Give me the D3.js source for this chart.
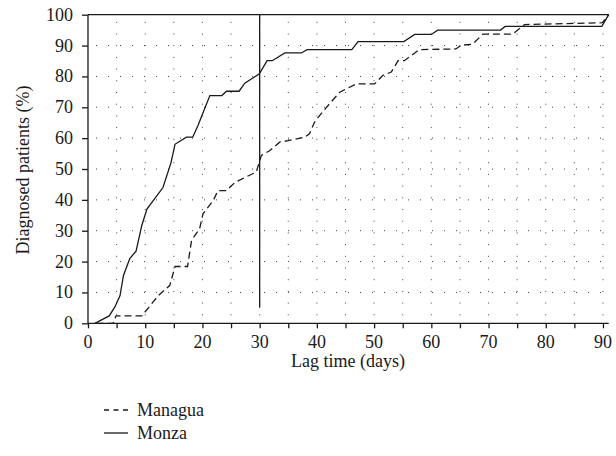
<!DOCTYPE html>
<html>
<head>
<meta charset="utf-8">
<script src="https://cdn.jsdelivr.net/npm/d3@7"></script>
<style>
  body { margin: 0; background: #fff; }
  svg text { font-family: "Liberation Serif", "Times New Roman", serif; fill: #1a1a1a; }
</style>
</head>
<body>
<svg id="chart" width="616" height="456"></svg>
<script>
// values
const monzaDays = [1.2, 3.7, 4.7, 5.6, 6.2, 7.3, 8.4, 9.4, 10.3, 13.1, 14.5, 15.2, 17.2, 18.3, 19.2, 21.3, 23.4, 24.2, 26.4, 27.4, 29.9, 30.1, 31.3, 32.2, 34.4, 37.3, 38.3, 46.1, 47.2, 55.2, 57.1, 60, 61.1, 72.1, 72.9, 89.8, 91];
const monzaPct  = [0, 2.4, 5.3, 9, 15.5, 21, 23.4, 31.7, 37, 44, 52, 58, 60.3, 60.3, 64, 73.8, 73.8, 75.2, 75.2, 77.8, 80.8, 81.3, 85.1, 85.1, 87.6, 87.6, 88.7, 88.7, 91.3, 91.3, 93.6, 93.6, 95, 95, 96.2, 96.2, 100];

const managuaDays = [1.5, 4.4, 4.9, 9.4, 12.3, 14.3, 15.2, 17.4, 18.1, 19.5, 20.1, 21.9, 22.7, 24.2, 25.7, 29.4, 30.3, 31.8, 33.5, 35, 37.9, 38.7, 39.6, 40.5, 42.2, 44, 46.9, 50.1, 51.5, 53, 54.2, 55.3, 57.9, 64.3, 65.2, 67.2, 69, 74.2, 76.3, 89.9, 91];
const managuaPct  = [0, 0, 2.4, 2.4, 9, 12.3, 18.4, 18.4, 26.9, 30.6, 35.5, 39.8, 43, 43, 45.7, 49, 54.4, 56, 58.7, 59.2, 60.3, 61.4, 65.2, 67.4, 71.1, 74.9, 77.6, 77.6, 80.3, 81.4, 85.1, 85.1, 88.7, 88.9, 90.1, 90.4, 93.7, 93.7, 96.8, 97.4, 100];

const xTicks = [0, 10, 20, 30, 40, 50, 60, 70, 80, 90];
const xMinorTicks = d3.range(0, 95, 5);
const yTicks = [0, 10, 20, 30, 40, 50, 60, 70, 80, 90, 100];
const cutoffDay = 30;
const cutoffFrom = 5;

const seriesNames = ["Managua", "Monza"];

const svg = d3.select("#chart");

var x = d3.scaleLinear().domain([0, 91]).range([88, 608.7]);
var y = d3.scaleLinear().domain([0, 100]).range([323.3, 14.7]);

// dotted grid
let grid = svg.append("g").attr("stroke", "#444").attr("stroke-width", 1);
grid.selectAll(".vg")
    .data(xMinorTicks.filter(d => d > 0))
    .enter()
    .append("line")
    .attr("x1", d => x(d)).attr("x2", d => x(d))
    .attr("y1", y(0) - 8).attr("y2", y(100))
    .attr("stroke-dasharray", "1,10.7");
grid.selectAll(".hg")
    .data(yTicks.filter(d => d > 0 && d < 100))
    .enter()
    .append("line")
    .attr("x1", x(0) + 8).attr("x2", x(91))
    .attr("y1", d => y(d)).attr("y2", d => y(d))
    .attr("stroke-dasharray", "1,11");

// axes
let xAxis = d3.axisBottom(x).tickValues(xMinorTicks).tickSize(5).tickFormat("");
let gx = svg.append("g").attr("transform", `translate(0,${y(0)})`).call(xAxis);
gx.select(".domain").attr("d", `M${x(0)},0H${x(91)}`);

svg.append("g").selectAll("text")
    .data(xTicks)
    .enter()
    .append("text")
    .attr("x", d => x(d))
    .attr("y", 348)
    .attr("text-anchor", "middle")
    .style("font-size", "18px")
    .text(d => d);

let yAxis = d3.axisLeft(y).tickValues(yTicks).tickSize(6).tickFormat("");
let gy = svg.append("g").attr("transform", `translate(${x(0)},0)`).call(yAxis);
gy.select(".domain").attr("d", `M0,${y(0)}V${y(100)}`);

svg.append("g").selectAll("text")
    .data(yTicks)
    .enter()
    .append("text")
    .attr("x", 73)
    .attr("y", d => y(d) + 6)
    .attr("text-anchor", "end")
    .style("font-size", "18px")
    .text(d => d);

svg.selectAll(".domain, .tick line").attr("stroke", "#1a1a1a").attr("stroke-width", 1.3);

// top frame line
svg.append("line")
    .attr("x1", x(0)).attr("x2", x(91))
    .attr("y1", y(100)).attr("y2", y(100))
    .attr("stroke", "#1a1a1a").attr("stroke-width", 1.3);

// 30-day line
svg.append("line")
    .attr("x1", x(cutoffDay)).attr("x2", x(cutoffDay))
    .attr("y1", y(cutoffFrom)).attr("y2", y(100))
    .attr("stroke", "#1a1a1a").attr("stroke-width", 1.3);

let line = d3.line().x(d => x(d[0])).y(d => y(d[1]));

svg.append("path")
    .datum(d3.zip(managuaDays, managuaPct))
    .attr("d", line)
    .attr("fill", "none")
    .attr("stroke", "#1a1a1a")
    .attr("stroke-width", 1.3)
    .attr("stroke-dasharray", "7,4");

svg.append("path")
    .datum(d3.zip(monzaDays, monzaPct))
    .attr("d", line)
    .attr("fill", "none")
    .attr("stroke", "#1a1a1a")
    .attr("stroke-width", 1.3);

// axis titles
svg.append("text")
    .attr("x", 348)
    .attr("y", 367)
    .attr("text-anchor", "middle")
    .style("font-size", "18px")
    .text("Lag time (days)");

svg.append("text")
    .attr("transform", "translate(29,170) rotate(-90)")
    .attr("text-anchor", "middle")
    .style("font-size", "18px")
    .text("Diagnosed patients (%)");

// legend
let legend = svg.append("g");
seriesNames.forEach((name, i) => {
    let ly = 410 + i * 23;
    legend.append("line")
        .attr("x1", 104).attr("x2", 128)
        .attr("y1", ly).attr("y2", ly)
        .attr("stroke", "#1a1a1a").attr("stroke-width", 1.3)
        .attr("stroke-dasharray", i == 0 ? "5,4.5" : null);
    legend.append("text")
        .attr("x", 137)
        .attr("y", ly + 6)
        .style("font-size", "18px")
        .text(name);
});
</script>
</body>
</html>
